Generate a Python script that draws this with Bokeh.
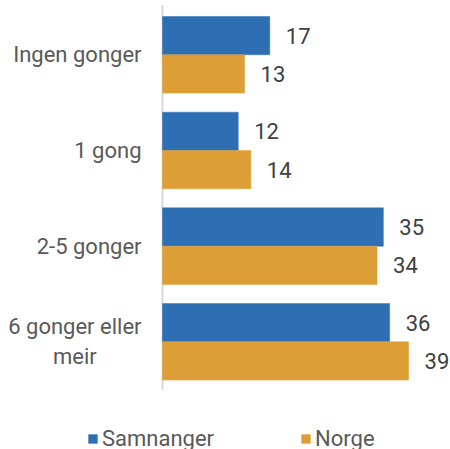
from bokeh.plotting import figure
from bokeh.models import ColumnDataSource, Range1d, Legend, LegendItem
from bokeh.core.properties import value
from bokeh.embed import file_html
from bokeh.resources import INLINE

categories = ["Ingen gonger", "1 gong", "2-5 gonger", "6 gonger eller\nmeir"]
samnanger = [17, 12, 35, 36]
norge = [13, 14, 34, 39]
series_names = ["Samnanger", "Norge"]
colors = ["#2E6FB4", "#DE9E37"]

FONT = value("Roboto")
n = len(categories)
centers = [n - i - 0.5 for i in range(n)]

src = ColumnDataSource(dict(
    cat=categories,
    yc=centers,
    ys=[c + 0.2 for c in centers],
    yn=[c - 0.2 for c in centers],
    samnanger=samnanger,
    norge=norge,
    s_lab=[str(v) for v in samnanger],
    n_lab=[str(v) for v in norge],
))

W, H = 450, 449
scale = 6.31  # px per unit
p = figure(
    width=W, height=H,
    x_range=Range1d(-162 / scale, (W - 162) / scale),
    y_range=Range1d(-0.625, n + 0.067),
    output_backend="svg", toolbar_location=None,
    min_border=0, min_border_left=0, min_border_right=0,
    min_border_top=0, min_border_bottom=0,
)
p.axis.visible = False
p.grid.visible = False
p.outline_line_color = None

# vertical axis line
p.segment(x0=0, y0=0, x1=0, y1=n + 0.02, line_color="#D9D9D9", line_width=2)

r1 = p.hbar(y="ys", right="samnanger", height=0.4, source=src,
            fill_color=colors[0], line_color=colors[0], line_width=0.5)
r2 = p.hbar(y="yn", right="norge", height=0.4, source=src,
            fill_color=colors[1], line_color=colors[1], line_width=0.5)

for col, lab, ycol in (("samnanger", "s_lab", "ys"), ("norge", "n_lab", "yn")):
    p.text(x=col, y=ycol, text=lab, source=src, x_offset=16,
           text_baseline="middle", text_align="left",
           text_font=FONT, text_font_size="22px", text_color="#404040")

# category labels (right-anchored box, lines centred inside it)
p.text(x=0, y="yc", text="cat", source=src, x_offset=-21,
       anchor="center_right", text_align="center", text_baseline="middle",
       text_font=FONT, text_font_size="22px", text_color="#595959",
       line_height=1.2)

legend = Legend(items=[LegendItem(label=series_names[0], renderers=[r1]),
                       LegendItem(label=series_names[1], renderers=[r2])],
                orientation="horizontal", location=(87, -2))
legend.border_line_color = None
legend.background_fill_alpha = 0
legend.padding = 0
legend.margin = 0
legend.glyph_width = 11
legend.glyph_height = 11
legend.label_height = 11
legend.label_standoff = 4
legend.spacing = 86
legend.label_text_font = "Roboto"
legend.label_text_font_size = "22px"
legend.label_text_color = "#595959"
p.add_layout(legend, "center")

open("out.html", "w").write(file_html(p, INLINE))
